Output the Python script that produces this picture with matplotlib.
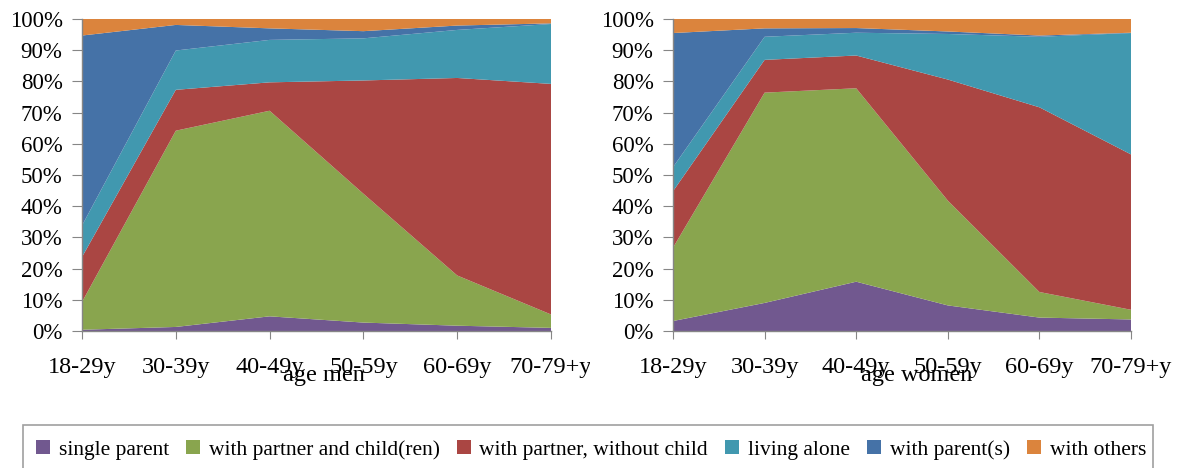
import matplotlib
matplotlib.use("Agg")
import matplotlib.pyplot as plt
import numpy as np
from matplotlib.patches import Patch, Rectangle
from matplotlib.transforms import Bbox

plt.rcParams['font.family'] = ['Liberation Serif', 'DejaVu Serif']

categories = ["18-29y", "30-39y", "40-49y", "50-59y", "60-69y", "70-79+y"]
series_names = ["single parent", "with partner and child(ren)", "with partner, without child",
                "living alone", "with parent(s)", "with others"]
colors = ["#71588F", "#89A54E", "#AA4643", "#4198AF", "#4572A7", "#DB843D"]

# men (percent)
men_single = [0.4, 1.3, 4.7, 2.7, 1.7, 1.0]
men_partner_child = [8.9, 62.9, 65.9, 41.3, 16.1, 4.3]
men_partner_nochild = [14.4, 13.1, 9.1, 36.3, 63.3, 73.9]
men_alone = [10.1, 12.6, 13.6, 13.5, 15.4, 19.2]
men_parents = [60.9, 8.2, 3.7, 2.3, 1.4, 0.2]
men_others = [5.3, 1.9, 3.0, 3.9, 2.1, 1.4]

# women (percent)
women_single = [3.2, 9.0, 15.8, 8.2, 4.3, 3.7]
women_partner_child = [23.5, 67.4, 62.0, 33.6, 8.2, 3.1]
women_partner_nochild = [18.1, 10.5, 10.5, 38.8, 59.2, 49.8]
women_alone = [7.7, 7.4, 7.3, 14.6, 22.6, 38.9]
women_parents = [43.0, 2.7, 1.5, 0.8, 0.4, 0.1]
women_others = [4.5, 3.0, 2.9, 4.0, 5.3, 4.4]

men = [men_single, men_partner_child, men_partner_nochild, men_alone, men_parents, men_others]
women = [women_single, women_partner_child, women_partner_nochild, women_alone, women_parents, women_others]

W, H = 1177, 468
fig = plt.figure(figsize=(W / 100, H / 100), dpi=100)

def px_axes(x0, y0, x1, y1):
    return fig.add_axes([x0 / W, 1 - y1 / H, (x1 - x0) / W, (y1 - y0) / H])

gray = "#868686"

def draw(ax, data, xlabel, xlabel_x, clip_right):
    x = np.arange(len(categories))
    arr = np.array(data, dtype=float)
    arr = arr / arr.sum(axis=0) * 100
    ax.stackplot(x, arr, colors=colors, linewidth=0)
    ax.set_xlim(0, len(categories) - 1)
    ax.set_ylim(0, 100)
    ax.set_yticks(np.arange(0, 101, 10))
    ax.set_yticklabels([f"{v}%" for v in range(0, 101, 10)], fontsize=16.5)
    ax.set_xticks(x)
    ax.set_xticklabels(categories, fontsize=17.5)
    for s in ["top", "right"]:
        ax.spines[s].set_visible(False)
    for s in ["left", "bottom"]:
        ax.spines[s].set_color(gray)
        ax.spines[s].set_linewidth(1.0)
    ax.tick_params(axis="y", length=7, color=gray, pad=7)
    ax.tick_params(axis="x", length=6, color=gray, pad=13)
    fig.text(xlabel_x / W, 1 - 376 / H, xlabel, ha="center", va="center", fontsize=17.5)
    if clip_right is not None:
        bb = Bbox.from_extents(0, 0, clip_right, H)
        for lab in ax.get_xticklabels():
            lab.set_clip_box(bb)
            lab.set_clip_on(True)

ax1 = px_axes(82, 19, 551, 331)
draw(ax1, men, "age men", 324, 590)
ax2 = px_axes(673, 19, 1131, 331)
draw(ax2, women, "age women", 917, None)

# legend box
fig.patches.append(Rectangle((23 / W, -0.05), (1153 - 23) / W, 1 - 425 / H + 0.05,
                             transform=fig.transFigure, fill=False, edgecolor="#A0A0A0",
                             linewidth=1.2))
handles = [Patch(facecolor=c, edgecolor="none") for c in colors]
fig.legend(handles, series_names, loc="center", bbox_to_anchor=(591 / W, 1 - 450 / H),
           ncol=6, frameon=False, fontsize=15.5, handlelength=0.65, handleheight=0.65,
           handletextpad=0.4, columnspacing=0.8, borderpad=0)

fig.savefig("out.png", dpi=100)
